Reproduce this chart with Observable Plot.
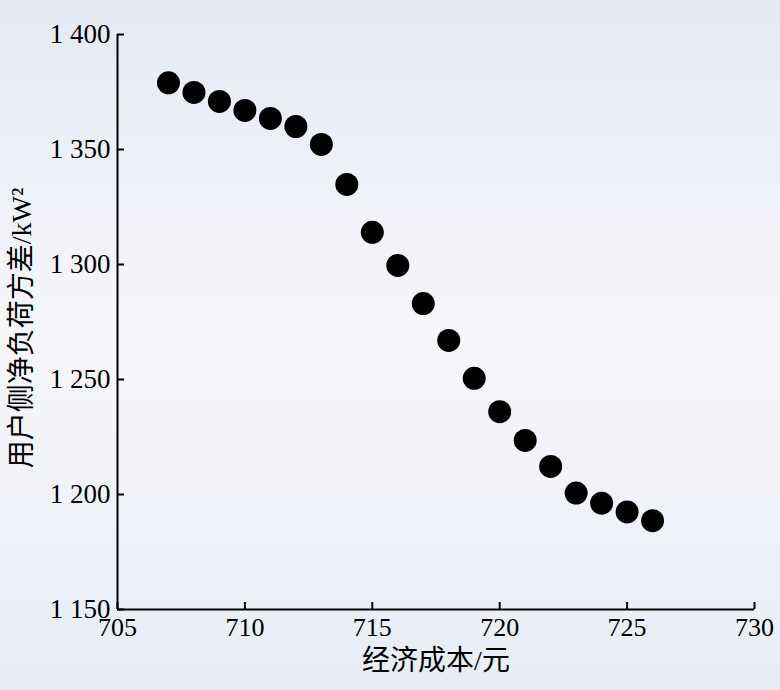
<!DOCTYPE html>
<html><head><meta charset="utf-8">
<script src="https://cdn.jsdelivr.net/npm/d3@7"></script>
<script src="https://cdn.jsdelivr.net/npm/@observablehq/plot@0.6"></script>
<style>
html,body{margin:0;padding:0;}
body{width:780px;height:690px;overflow:hidden;
background:linear-gradient(to bottom,#e5eaf4 0%,#e8ecf6 8%,#f2f3f9 35%,#f6f6fa 50%,#f1f3f9 70%,#e8ecf5 100%);}
</style></head><body><div id="chart"></div>
<script>
const cost = [707,708,709,710,711,712,713,714,715,716,717,718,719,720,721,722,723,724,725,726];
const variance = [1379,1374.8,1370.9,1367,1363.5,1360,1352.2,1334.8,1314,1299.6,1283,1267,1250.5,1236,1223.5,1212.2,1200.6,1196.2,1192.4,1188.6];
const xTicks = [705,710,715,720,725,730];
const yTicks = [1150,1200,1250,1300,1350,1400];
const yTickLabels = ["1 150","1 200","1 250","1 300","1 350","1 400"];
const xLabel = "经济成本/元";
const yLabel = "用户侧净负荷方差/kW²";

const data = cost.map((c,i)=>({cost:c, variance:variance[i]}));
const font = "'Liberation Serif','Noto Sans CJK SC',serif";
const chart = Plot.plot({
  width:780, height:690,
  marginLeft:117, marginRight:26, marginTop:34, marginBottom:81,
  style:{background:"transparent", fontFamily:font, fontSize:"26px", color:"#000", overflow:"visible"},
  x:{domain:[705,730]},
  y:{domain:[1150,1400]},
  marks:[
    Plot.axisX({ticks:xTicks, tickSize:-7, tickPadding:15, strokeWidth:2, label:null, fontSize:26}),
    Plot.axisY({ticks:yTicks, tickSize:-7, tickPadding:14, strokeWidth:2, label:null, fontSize:27,
      tickFormat:d=>yTickLabels[yTicks.indexOf(d)]}),
    Plot.ruleX([705],{strokeWidth:2}),
    Plot.ruleY([1150],{strokeWidth:2}),
    Plot.dot(data,{x:"cost", y:"variance", r:11.5, fill:"#000", stroke:"none"}),
    Plot.text([xLabel],{frameAnchor:"bottom", lineAnchor:"middle", textAnchor:"middle", dy:52, fontSize:28, fill:"#000"}),
    Plot.text([yLabel],{frameAnchor:"left", lineAnchor:"middle", textAnchor:"middle", dx:-95, dy:6, rotate:-90, fontSize:28, fill:"#000"})
  ]
});
document.getElementById("chart").appendChild(chart);
</script></body></html>
